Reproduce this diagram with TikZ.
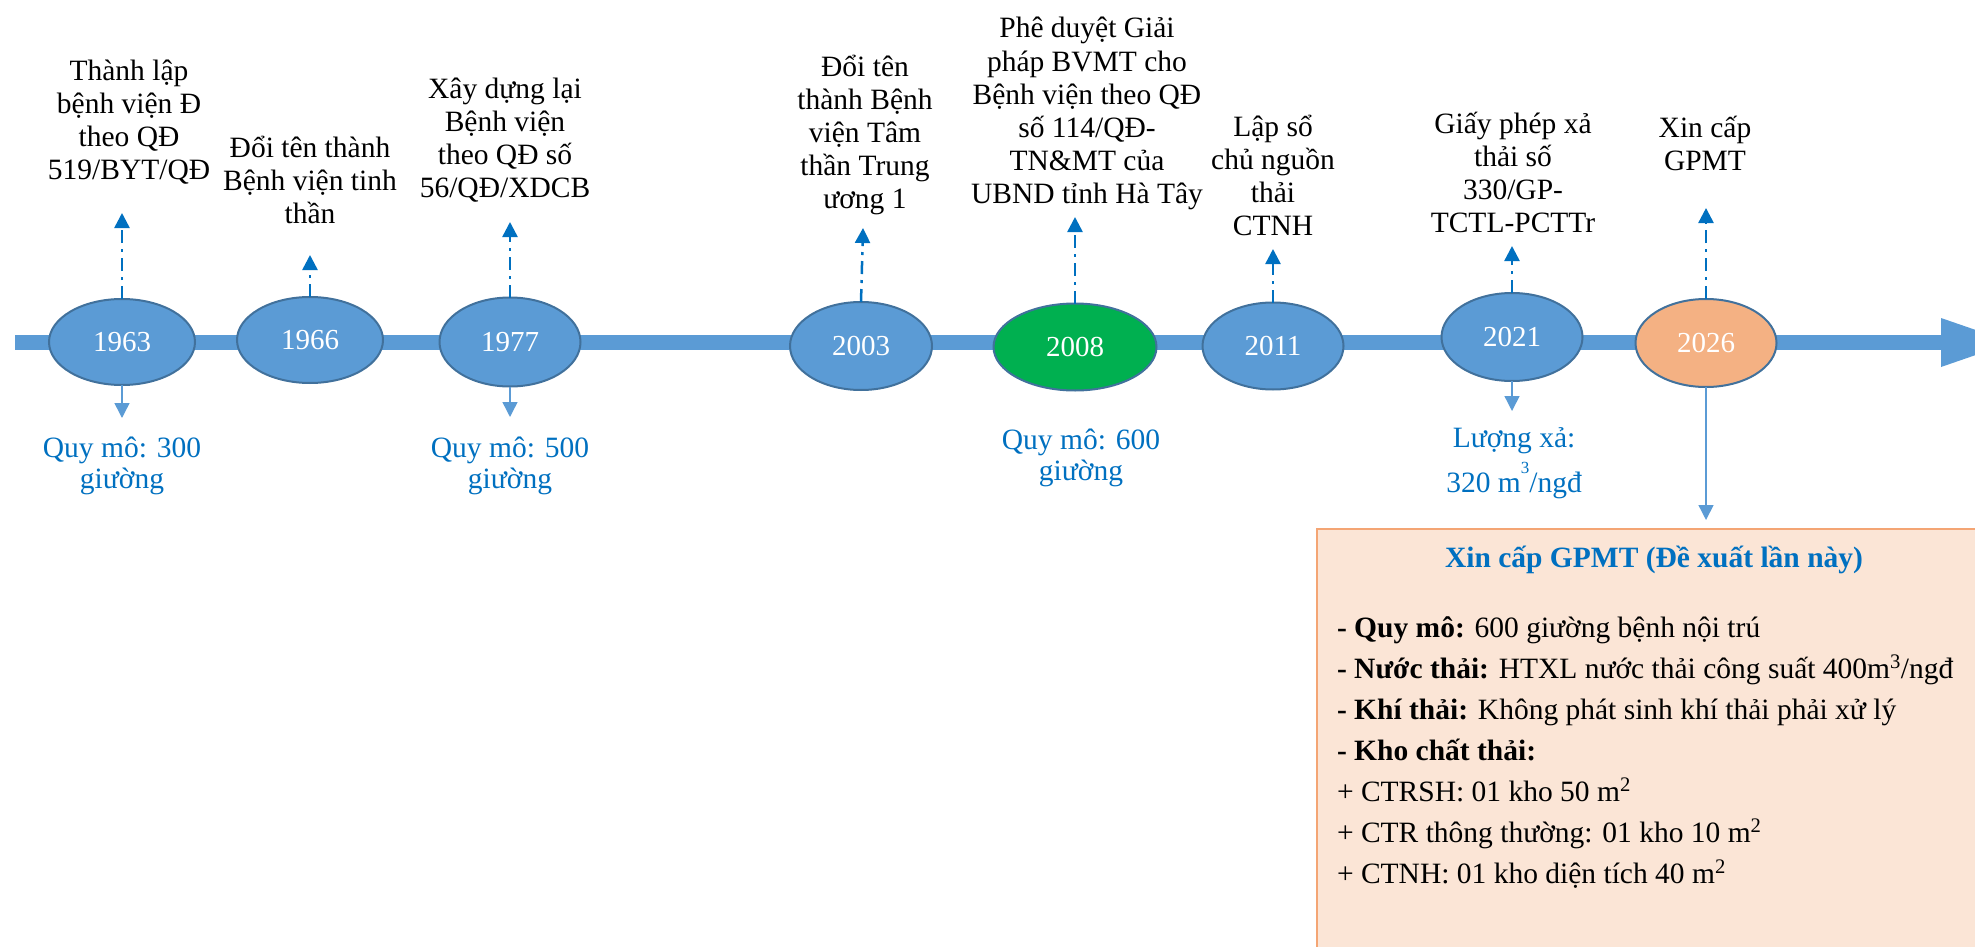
\documentclass[tikz,border=0pt]{standalone}
\usepackage{fontspec}
\setmainfont{Liberation Serif}
\usetikzlibrary{shapes.geometric,arrows.meta}
\definecolor{barblue}{HTML}{5B9BD5}
\definecolor{rimblue}{HTML}{41719C}
\definecolor{darkblue}{HTML}{0070C0}
\definecolor{okgreen}{HTML}{00B050}
\definecolor{peach}{HTML}{F4B183}
\definecolor{paleorange}{HTML}{FBE5D6}
\definecolor{boxrim}{HTML}{F4A574}

\begin{document}
\begin{tikzpicture}[x=1pt,y=-1pt,
  every node/.style={inner sep=0pt, outer sep=0pt},
  yearnode/.style={ellipse, draw=rimblue, line width=2pt, fill=barblue, text=white,
    font=\fontsize{29}{33}\selectfont, minimum width=143pt, minimum height=87pt},
  % multi-line nodes are placed by the baseline of their last line
  event/.style={align=center, anchor=base, font=\fontsize{29.5}{33}\selectfont},
  scalelabel/.style={align=center, anchor=base, text=darkblue, font=\fontsize{29.5}{31}\selectfont},
  uparrow/.style={darkblue, line width=2.5pt, dash pattern=on 13pt off 6pt on 3pt off 6pt,
    -{Triangle[width=15pt,length=15pt]}},
  downarrow/.style={barblue, line width=1.5pt, -{Triangle[width=15pt,length=15pt]}},
]
\useasboundingbox (0,0) rectangle (1975,947);
\clip (0,0) rectangle (1975,947);

% time axis with its arrow head
\fill[barblue] (15,335) rectangle (1942,350);
\fill[barblue] (1941,318) -- (2012,342.5) -- (1941,367) -- cycle;

% years on the axis
\node[yearnode, minimum width=146pt, minimum height=86pt] (e1963) at (122,342) {1963};
\node[yearnode, minimum width=146pt, minimum height=86pt] (e1966) at (310,340) {1966};
\node[yearnode, minimum width=141pt, minimum height=89pt] (e1977) at (510,342) {1977};
\node[yearnode, minimum width=142pt, minimum height=88pt] (e2003) at (861,346) {2003};
\node[yearnode, fill=okgreen, minimum width=163pt, minimum height=87pt] (e2008) at (1075,347) {2008};
\node[yearnode, minimum width=141pt, minimum height=87pt] (e2011) at (1273,346) {2011};
\node[yearnode, minimum width=141pt, minimum height=88pt] (e2021) at (1512,337) {2021};
\node[yearnode, fill=peach, minimum width=141pt, minimum height=88pt] (e2026) at (1706,343) {2026};

% events above the axis
\node[event] (t1963) at (129,179) {Thành lập\\bệnh viện Đ\\theo QĐ\\519/BYT/QĐ};
\node[event] (t1966) at (310,223) {Đổi tên thành\\Bệnh viện tinh\\thần};
\node[event] (t1977) at (505,197) {Xây dựng lại\\Bệnh viện\\theo QĐ số\\56/QĐ/XDCB};
\node[event] (t2003) at (865,208) {Đổi tên\\thành Bệnh\\viện Tâm\\thần Trung\\ương 1};
\node[event] (t2008) at (1087,203) {Phê duyệt Giải\\pháp BVMT cho\\Bệnh viện theo QĐ\\số 114/QĐ-\\TN\&MT của\\UBND tỉnh Hà Tây};
\node[event] (t2011) at (1273,235) {Lập sổ\\chủ nguồn\\thải\\CTNH};
\node[event] (t2021) at (1513,232) {Giấy phép xả\\thải số\\330/GP-\\TCTL-PCTTr};
\node[event] (t2026) at (1705,171) {Xin cấp\\GPMT};

% tips of the upward arrows
\coordinate (u1963) at (122,213);
\coordinate (u1966) at (310,255);
\coordinate (u1977) at (510,222);
\coordinate (u2003) at (863,228);
\coordinate (u2008) at (1075,217);
\coordinate (u2011) at (1273,249);
\coordinate (u2021) at (1512,246);
\coordinate (u2026) at (1706,208);
\foreach \y in {1963,1966,1977,2003,2008,2011,2021,2026}
  \draw[uparrow] (e\y.north) -- (u\y);

% bed counts and discharge below the axis
\coordinate (d1963) at (122,418);
\coordinate (d1977) at (510,417);
\coordinate (d2021) at (1512,411);
\foreach \y in {1963,1977,2021}
  \draw[downarrow] (e\y.south) -- (d\y);

\node[scalelabel] (b1963) at (122,488) {Quy mô: 300\\giường};
\node[scalelabel] (b1977) at (510,488) {Quy mô: 500\\giường};
\node[scalelabel] (b2008) at (1081,480) {Quy mô: 600\\giường};
\node[scalelabel] (b2021a) at (1514,447) {Lượng xả:};
\node[scalelabel] (b2021b) at (1514,492) {320 m\raisebox{19pt}{\fontsize{17}{17}\selectfont 3}/ngđ};

% proposal box
\node[draw=boxrim, fill=paleorange, line width=2.5pt, anchor=north west,
      minimum width=700pt, minimum height=450pt] (propbox) at (1317,529) {};
\coordinate (d2026) at (1706,520);
\draw[downarrow] (e2026.south) -- (d2026);

\node[anchor=base, text=darkblue, font=\bfseries\fontsize{29.5}{33}\selectfont] (boxtitle)
  at (1654,567) {Xin cấp GPMT (Đề xuất lần này)};
\node[anchor=base west, align=left, font=\fontsize{29.5}{41}\selectfont] (boxbody) at (1337,883) {%
\textbf{- Quy mô:} 600 giường bệnh nội trú\\
\textbf{- Nước thải:} HTXL nước thải công suất 400m\textsuperscript{3}/ngđ\\
\textbf{- Khí thải:} Không phát sinh khí thải phải xử lý\\
\textbf{- Kho chất thải:}\\
+ CTRSH: 01 kho 50 m\textsuperscript{2}\\
+ CTR thông thường: 01 kho 10 m\textsuperscript{2}\\
+ CTNH: 01 kho diện tích 40 m\textsuperscript{2}};
\end{tikzpicture}
\end{document}
